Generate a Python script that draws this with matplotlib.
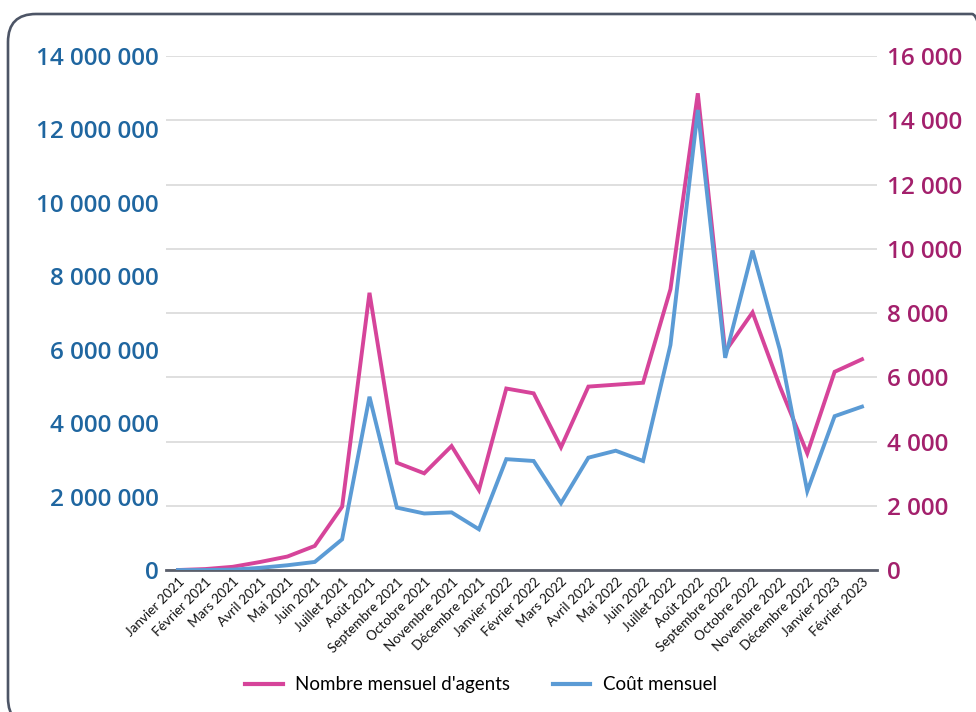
import matplotlib
matplotlib.use("Agg")
import matplotlib.pyplot as plt
from matplotlib.patches import FancyBboxPatch
from matplotlib.ticker import FuncFormatter

# data
months = ["Janvier 2021", "Février 2021", "Mars 2021", "Avril 2021", "Mai 2021",
          "Juin 2021", "Juillet 2021", "Août 2021", "Septembre 2021", "Octobre 2021",
          "Novembre 2021", "Décembre 2021", "Janvier 2022", "Février 2022", "Mars 2022",
          "Avril 2022", "Mai 2022", "Juin 2022", "Juillet 2022", "Août 2022",
          "Septembre 2022", "Octobre 2022", "Novembre 2022", "Décembre 2022",
          "Janvier 2023", "Février 2023"]
agents = [0, 30, 100, 250, 420, 750, 1970, 8630, 3340, 3010, 3860, 2490,
          5650, 5500, 3820, 5710, 5770, 5830, 8740, 14840, 6800, 8020, 5710,
          3630, 6170, 6560]
cout = [0, 0, 10000, 60000, 130000, 220000, 836000, 4720000, 1700000, 1540000,
        1570000, 1110000, 3020000, 2970000, 1820000, 3060000, 3250000, 2970000,
        6130000, 12530000, 5780000, 8700000, 5990000, 2150000, 4190000, 4450000]

PINK = "#d6449a"
BLUE = "#5b9bd5"
PINK_TXT = "#a3206c"
BLUE_TXT = "#1f66a0"


def spaced(v, pos):
    return f"{int(round(v)):,}".replace(",", " ")


fig = plt.figure(figsize=(9.76, 7.12), dpi=100)

# rounded frame, partly outside the picture
frame = FancyBboxPatch((0.08, -0.14), 9.92, 7.12,
                       boxstyle="round,pad=0,rounding_size=0.28",
                       transform=fig.dpi_scale_trans, facecolor="none",
                       edgecolor="#4d5566", linewidth=1.9)
fig.patches.append(frame)

ax = fig.add_axes([0.170, 0.1994, 0.7286, 0.7219])
ax2 = ax.twinx()
x = list(range(len(months)))

ax.plot(x, cout, color=BLUE, linewidth=2.8, solid_joinstyle="miter", zorder=3)
ax2.plot(x, agents, color=PINK, linewidth=2.8, solid_joinstyle="miter", zorder=3)
# blue drawn over pink, as in the original
ax.set_zorder(ax2.get_zorder() + 1)
ax.patch.set_visible(False)

ax.set_xlim(-0.44, 25.55)
ax.set_ylim(0, 14000000)
ax2.set_ylim(0, 16000)
ax.set_yticks(range(0, 14000001, 2000000))
ax2.set_yticks(range(0, 16001, 2000))
ax.yaxis.set_major_formatter(FuncFormatter(spaced))
ax2.yaxis.set_major_formatter(FuncFormatter(spaced))

ax2.grid(axis="y", color="#dcdcdc", linewidth=1.3)
ax2.set_axisbelow(True)

for a in (ax, ax2):
    for s in a.spines.values():
        s.set_visible(False)
ax.axhline(0, color="#5a5f6b", linewidth=2.0, zorder=2, clip_on=False)

ax.tick_params(axis="y", length=0, pad=5, labelcolor=BLUE_TXT)
ax2.tick_params(axis="y", length=0, pad=7, labelcolor=PINK_TXT)
for lab in ax.get_yticklabels() + ax2.get_yticklabels():
    lab.set_fontfamily("Open Sans")
    lab.set_fontweight("semibold")
    lab.set_fontsize(17.5)

ax.set_xticks(x)
ax.set_xticklabels(months, rotation=45, ha="right", rotation_mode="anchor",
                   fontsize=9.7, family="Lato", color="#111111")
ax.tick_params(axis="x", length=0, pad=4)

handles = [plt.Line2D([], [], color=PINK, linewidth=3),
           plt.Line2D([], [], color=BLUE, linewidth=3)]
fig.legend(handles, ["Nombre mensuel d'agents", "Coût mensuel"],
           loc="center", bbox_to_anchor=(0.4926, 0.038), ncol=2, frameon=False,
           prop={"family": "Lato", "size": 13.5}, handlelength=2.0,
           handletextpad=0.65, columnspacing=2.3)

fig.savefig("out.png", dpi=100)
